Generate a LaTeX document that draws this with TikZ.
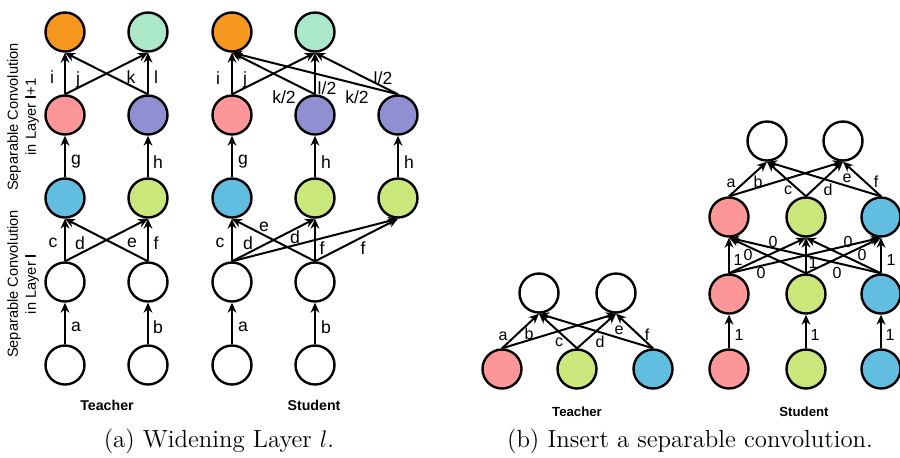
\documentclass[tikz,border=0pt]{standalone}
\usepackage{fontspec}
\setsansfont{Liberation Sans}
\usetikzlibrary{arrows.meta}
\definecolor{corange}{HTML}{F6981F}
\definecolor{cmint}{HTML}{AAE8C9}
\definecolor{cpink}{HTML}{FD9698}
\definecolor{cpurple}{HTML}{8F8FD2}
\definecolor{cblue}{HTML}{62BEE0}
\definecolor{clime}{HTML}{C9E77B}
\begin{document}
\begin{tikzpicture}[x=0.5pt,y=-0.5pt,
  nd/.style={circle,draw=black,line width=1.2pt,minimum size=19.5pt,inner sep=0pt},
  arr/.style={line width=1pt,-{Stealth[length=5pt,width=4.4pt]}},
  lbl/.style={font=\sffamily\fontsize{8.8}{10}\selectfont,inner sep=0pt},
  lblb/.style={font=\sffamily\fontsize{8}{9}\selectfont,inner sep=0pt},
  ttla/.style={font=\sffamily\bfseries\fontsize{7.1}{8}\selectfont,inner sep=0pt},
  ttlb/.style={font=\sffamily\bfseries\fontsize{6.6}{8}\selectfont,inner sep=0pt},
  side/.style={font=\sffamily\fontsize{7.3}{9}\selectfont,rotate=90,align=center,inner sep=0pt},
  capt/.style={font=\fontsize{12.4}{14}\selectfont,inner sep=0pt}]
\useasboundingbox (0,0) rectangle (900,457);

% ---------- (a) teacher ----------
\node[nd,fill=corange] (ta1) at (65,32) {};
\node[nd,fill=cmint]   (ta2) at (148,32) {};
\node[nd,fill=cpink]   (ta3) at (65,115) {};
\node[nd,fill=cpurple] (ta4) at (148,115) {};
\node[nd,fill=cblue]   (ta5) at (65,198) {};
\node[nd,fill=clime]   (ta6) at (148,198) {};
\node[nd,fill=white]   (ta7) at (65,282) {};
\node[nd,fill=white]   (ta8) at (148,282) {};
\node[nd,fill=white]   (ta9) at (65,365) {};
\node[nd,fill=white]   (ta10) at (148,365) {};

\draw[arr] (ta9.north) -- (ta7.south) node[lbl] (tla) at (76,327) {a};
\draw[arr] (ta10.north) -- (ta8.south) node[lbl] (tlb) at (158,327) {b};
\draw[arr] (ta7.north) -- (ta5.south) node[lbl] (tlc) at (53,243) {c};
\draw[arr] (ta7.north) -- (ta6.south) node[lbl] (tld) at (80,243) {d};
\draw[arr] (ta8.north) -- (ta5.south) node[lbl] (tle) at (132,243) {e};
\draw[arr] (ta8.north) -- (ta6.south) node[lbl] (tlf) at (156,243) {f};
\draw[arr] (ta5.north) -- (ta3.south) node[lbl] (tlg) at (76,162) {g};
\draw[arr] (ta6.north) -- (ta4.south) node[lbl] (tlh) at (158,162) {h};
\draw[arr] (ta3.north) -- (ta1.south) node[lbl] (tli) at (52,77) {i};
\draw[arr] (ta3.north) -- (ta2.south) node[lbl] (tlj) at (78,80) {j};
\draw[arr] (ta4.north) -- (ta1.south) node[lbl] (tlk) at (131,77) {k};
\draw[arr] (ta4.north) -- (ta2.south) node[lbl] (tll) at (156,77) {l};

\node[side] (sideup) at (23,117) {Separable Convolution\\in Layer {\bfseries l}+1};
\node[side] (sidelo) at (23,284) {Separable Convolution\\in Layer {\bfseries l}};
\node[ttla] (tta) at (107,405) {Teacher};

% ---------- (a) student ----------
\node[nd,fill=corange] (sa1) at (232,32) {};
\node[nd,fill=cmint]   (sa2) at (315,32) {};
\node[nd,fill=cpink]   (sa3) at (232,115) {};
\node[nd,fill=cpurple] (sa4) at (315,115) {};
\node[nd,fill=cpurple] (sa4b) at (398,115) {};
\node[nd,fill=cblue]   (sa5) at (232,198) {};
\node[nd,fill=clime]   (sa6) at (315,198) {};
\node[nd,fill=clime]   (sa6b) at (398,198) {};
\node[nd,fill=white]   (sa7) at (232,282) {};
\node[nd,fill=white]   (sa8) at (315,282) {};
\node[nd,fill=white]   (sa9) at (232,365) {};
\node[nd,fill=white]   (sa10) at (315,365) {};

\draw[arr] (sa9.north) -- (sa7.south) node[lbl] (sla) at (243,327) {a};
\draw[arr] (sa10.north) -- (sa8.south) node[lbl] (slb) at (326,327) {b};
\draw[arr] (sa7.north) -- (sa5.south) node[lbl] (slc) at (220,243) {c};
\draw[arr] (sa7.north) -- (sa6.south) node[lbl] (sld) at (248,243) {d};
\draw[arr] (sa7.north) -- (sa6b.south) node[lbl] (sld2) at (295,237) {d};
\draw[arr] (sa8.north) -- (sa5.south) node[lbl] (sle) at (264,227) {e};
\draw[arr] (sa8.north) -- (sa6.south) node[lbl] (slf) at (322,248) {f};
\draw[arr] (sa8.north) -- (sa6b.south) node[lbl] (slf2) at (363,248) {f};
\draw[arr] (sa5.north) -- (sa3.south) node[lbl] (slg) at (243,162) {g};
\draw[arr] (sa6.north) -- (sa4.south) node[lbl] (slh) at (326,162) {h};
\draw[arr] (sa6b.north) -- (sa4b.south) node[lbl] (slh2) at (409,162) {h};
\draw[arr] (sa3.north) -- (sa1.south) node[lbl] (sli) at (218,78) {i};
\draw[arr] (sa3.north) -- (sa2.south) node[lbl] (slj) at (245,80) {j};
\draw[arr] (sa4.north) -- (sa1.south) node[lbl] (slk) at (284,97) {k/2};
\draw[arr] (sa4.north) -- (sa2.south) node[lbl] (sll) at (327,88) {l/2};
\draw[arr] (sa4b.north) -- (sa1.south) node[lbl] (slk2) at (357,97) {k/2};
\draw[arr] (sa4b.north) -- (sa2.south) node[lbl] (sll2) at (383,78) {l/2};

\node[ttla] (sta) at (314,405) {Student};
\node[capt] (capa) at (219,441) {(a) Widening Layer $l$.};

% ---------- (b) teacher ----------
\node[nd,fill=white] (tb1) at (539,293) {};
\node[nd,fill=white] (tb2) at (616,293) {};
\node[nd,fill=cpink] (tb3) at (502,369) {};
\node[nd,fill=clime] (tb4) at (577,369) {};
\node[nd,fill=cblue] (tb5) at (653,369) {};

\draw[arr] (tb3.north) -- (tb1.south) node[lblb] (tba) at (503,336) {a};
\draw[arr] (tb3.north) -- (tb2.south) node[lblb] (tbb) at (529,334) {b};
\draw[arr] (tb4.north) -- (tb1.south) node[lblb] (tbc) at (559,342) {c};
\draw[arr] (tb4.north) -- (tb2.south) node[lblb] (tbd) at (600,342) {d};
\draw[arr] (tb5.north) -- (tb1.south) node[lblb] (tbe) at (619,330) {e};
\draw[arr] (tb5.north) -- (tb2.south) node[lblb] (tbf) at (647,335) {f};

\node[ttlb] (ttb) at (577,412) {Teacher};

% ---------- (b) student ----------
\node[nd,fill=white] (sb1) at (767,141) {};
\node[nd,fill=white] (sb2) at (843,141) {};
\node[nd,fill=cpink] (sb3) at (729,217) {};
\node[nd,fill=clime] (sb4) at (806,217) {};
\node[nd,fill=cblue] (sb5) at (881,217) {};
\node[nd,fill=cpink] (sb6) at (729,294) {};
\node[nd,fill=clime] (sb7) at (806,294) {};
\node[nd,fill=cblue] (sb8) at (881,294) {};
\node[nd,fill=cpink] (sb9) at (729,369) {};
\node[nd,fill=clime] (sb10) at (806,369) {};
\node[nd,fill=cblue] (sb11) at (881,369) {};

\draw[arr] (sb3.north) -- (sb1.south) node[lblb] (sba) at (731,183) {a};
\draw[arr] (sb3.north) -- (sb2.south) node[lblb] (sbb) at (758,182) {b};
\draw[arr] (sb4.north) -- (sb1.south) node[lblb] (sbc) at (788,190) {c};
\draw[arr] (sb4.north) -- (sb2.south) node[lblb] (sbd) at (828,190) {d};
\draw[arr] (sb5.north) -- (sb1.south) node[lblb] (sbe) at (847,178) {e};
\draw[arr] (sb5.north) -- (sb2.south) node[lblb] (sbf) at (876,182) {f};

\draw[arr] (sb6.north) -- (sb3.south) node[lblb] (w11) at (738,260) {1};
\draw[arr] (sb6.north) -- (sb4.south) node[lblb] (w12) at (761,273) {0};
\draw[arr] (sb6.north) -- (sb5.south) node[lblb] (w13) at (748,255) {0};
\draw[arr] (sb7.north) -- (sb3.south) node[lblb] (w21) at (773,242) {0};
\draw[arr] (sb7.north) -- (sb4.south) node[lblb] (w22) at (813,263) {1};
\draw[arr] (sb7.north) -- (sb5.south) node[lblb] (w23) at (848,242) {0};
\draw[arr] (sb8.north) -- (sb3.south) node[lblb] (w31) at (837,273) {0};
\draw[arr] (sb8.north) -- (sb4.south) node[lblb] (w32) at (862,255) {0};
\draw[arr] (sb8.north) -- (sb5.south) node[lblb] (w33) at (891,260) {1};

\draw[arr] (sb9.north) -- (sb6.south) node[lblb] (v1) at (739,335) {1};
\draw[arr] (sb10.north) -- (sb7.south) node[lblb] (v2) at (815,335) {1};
\draw[arr] (sb11.north) -- (sb8.south) node[lblb] (v3) at (890,335) {1};

\node[ttlb] (stb) at (804,412) {Student};
\node[capt] (capb) at (690,441) {(b) Insert a separable convolution.};
\end{tikzpicture}
\end{document}
